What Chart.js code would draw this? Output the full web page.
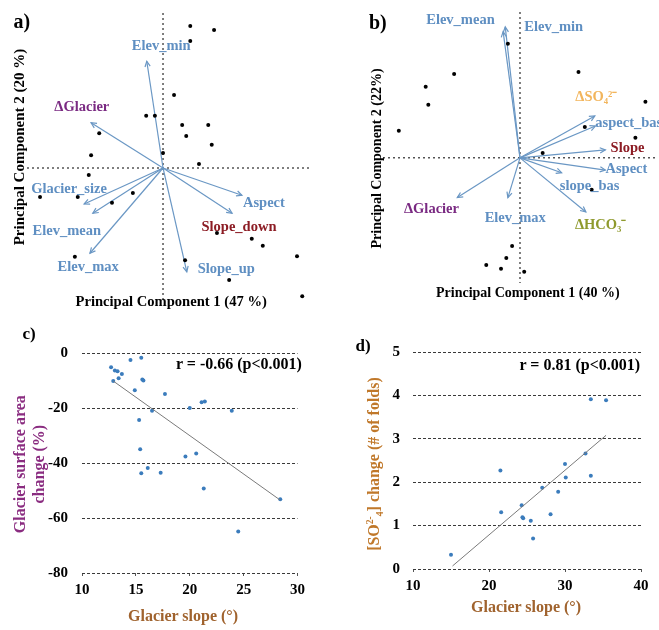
<!DOCTYPE html>
<html><head><meta charset="utf-8">
<script src="https://cdn.jsdelivr.net/npm/chart.js@4.4.1/dist/chart.umd.min.js"></script>
<style>
html,body{margin:0;padding:0;background:#fff;}
body{width:659px;height:630px;position:relative;overflow:hidden;font-family:"Liberation Serif","Times New Roman",serif;}
canvas{position:absolute;}
.t{position:absolute;font-weight:bold;white-space:nowrap;line-height:1.2;text-align:center;transform-origin:center center;}
</style></head><body>
<canvas id="ca" width="330" height="315" style="left:0;top:0"></canvas>
<canvas id="cb" width="329" height="315" style="left:330px;top:0"></canvas>
<canvas id="cc" width="310" height="300" style="left:0;top:330px"></canvas>
<canvas id="cd" width="329" height="300" style="left:330px;top:330px"></canvas>
<script>
// ---------- Panel a: PCA (PC1 47 %, PC2 20 %) ----------
const pcaA_pc1 = [0.47,0.88,0.47,0.19,-0.29,-0.14,0.33,0.78,0.40,0.84,-1.10,-1.24,0.00,0.62,-1.28,-2.12,-1.47,-0.52,-0.88,0.93,1.53,1.72,2.31,-1.52,0.38,1.14,2.40];
const pcaA_pc2 = [2.45,2.38,2.19,1.26,0.90,0.90,0.74,0.74,0.55,0.40,0.60,0.22,0.26,0.07,-0.12,-0.50,-0.50,-0.43,-0.60,-1.12,-1.22,-1.34,-1.52,-1.53,-1.59,-1.93,-2.21];
const pcaA_vars  = ['Elev_min','ΔGlacier','Glacier_size','Elev_mean','Elev_max','Aspect','Slope_down','Slope_up'];
const pcaA_load1 = [-0.28,-1.24,-1.36,-1.21,-1.26,1.36,1.19,0.41];
const pcaA_load2 = [1.84,0.78,-0.62,-0.78,-1.47,-0.47,-0.78,-1.79];
const pcaA_labX  = [-0.03,-1.40,-1.62,-1.66,-1.29,1.74,1.31,1.09];
const pcaA_labY  = [2.10,1.05,-0.36,-1.09,-1.71,-0.60,-1.03,-1.74];
const pcaA_kind  = ['var','glacier','var','var','var','var','slope','var'];

// ---------- Panel b: PCA (PC1 40 %, PC2 22 %) ----------
const pcaB_pc1 = [-0.23,-1.25,-1.79,-1.74,-2.30,1.11,2.38,1.23,2.19,0.43,1.36,-0.15,-0.26,-0.64,-0.36,0.08];
const pcaB_pc2 = [2.15,1.58,1.34,1.00,0.51,1.62,1.06,0.58,0.38,0.09,-0.60,-1.66,-1.89,-2.02,-2.09,-2.15];
const pcaB_vars  = ['Elev_mean','Elev_min','ΔSO₄²⁻','aspect_bas','Slope','Aspect','slope_bas','ΔHCO₃⁻','ΔGlacier','Elev_max'];
const pcaB_load1 = [-0.28,-0.32,1.42,1.43,1.62,1.62,0.79,1.25,-1.19,-0.23];
const pcaB_load2 = [2.47,2.38,0.79,0.60,0.15,-0.23,-0.28,-1.02,-0.75,-0.75];
const pcaB_labX  = [-1.13,0.64,1.45,1.43,2.04,2.02,1.32,1.53,-1.68,-0.09];
const pcaB_labY  = [2.60,2.47,1.15,0.66,0.19,-0.21,-0.53,-1.28,-0.96,-1.13];
const pcaB_kind  = ['var','var','so4','var','slope','var','var','hco3','glacier','var'];
const pcaB_align = ['center','center','center','left','center','center','center','center','center','center'];

// ---------- Panel c ----------
const slopeC = [12.7,13.05,13.3,13.7,13.4,12.9,14.5,15.5,15.6,15.7,14.9,17.7,16.5,15.3,20.0,21.1,21.4,23.9,15.4,19.6,20.6,16.1,15.5,17.3,21.3,28.4,24.5];
const areaChangeC = [-5.2,-6.4,-6.6,-7.6,-9.2,-10.2,-2.5,-1.7,-9.6,-10.0,-13.5,-14.9,-21.0,-24.4,-20.0,-17.9,-17.6,-21.0,-35.0,-37.6,-36.5,-41.8,-43.7,-43.5,-49.3,-53.2,-64.9];
const trendC_x = [12.9,28.4];
const trendC_y = [-10.2,-53.5];
const ticksC_y = [0,-20,-40,-60,-80];
const ticksC_x = [10,15,20,25,30];

// ---------- Panel d ----------
const slopeD = [15.0,21.5,21.6,24.3,24.4,24.5,25.5,25.8,27.0,28.1,29.1,30.0,30.1,32.7,33.4,33.4,35.4];
const so4ChangeD = [0.33,2.27,1.31,1.47,1.19,1.17,1.11,0.70,1.87,1.26,1.78,2.42,2.11,2.66,2.15,3.91,3.89];
const trendD_x = [15.2,35.4];
const trendD_y = [0.07,3.08];
const ticksD_y = [0,1,2,3,4,5];
const ticksD_x = [10,20,30,40];

// ---------- styles ----------
const FONT = '"Liberation Serif","Times New Roman",serif';
const kindColor = {var:'#5f8fc2', glacier:'#7a2a82', slope:'#8c1c24', so4:'#f2b55c', hco3:'#8f9a2e'};
const arrowColor = '#6a97c4';
const dotBlue = '#3b7cbc';

const pcaPlugin = {
  id:'pcaDecor',
  beforeDatasetsDraw(chart, args, opts){
    if(!opts || !opts.cross) return;
    const {ctx, chartArea:a, scales:{x,y}} = chart;
    const x0 = x.getPixelForValue(0), y0 = y.getPixelForValue(0);
    ctx.save();
    ctx.setLineDash([2,3]); ctx.strokeStyle='#555'; ctx.lineWidth=1.5;
    ctx.beginPath();
    ctx.moveTo(x0,a.top); ctx.lineTo(x0,a.bottom);
    ctx.moveTo(a.left,y0); ctx.lineTo(a.right,y0);
    ctx.stroke();
    ctx.restore();
  },
  afterDatasetsDraw(chart, args, opts){
    if(!opts || !opts.cross) return;
    const {ctx, scales:{x,y}} = chart;
    ctx.save();
    chart.data.datasets.forEach(ds=>{
      if(!ds.arrow) return;
      const p0 = ds.data[0], p1 = ds.data[1];
      const X0=x.getPixelForValue(p0.x), Y0=y.getPixelForValue(p0.y);
      const X1=x.getPixelForValue(p1.x), Y1=y.getPixelForValue(p1.y);
      const ang=Math.atan2(Y1-Y0,X1-X0), L=6, w=0.45;
      ctx.strokeStyle=ds.borderColor; ctx.lineWidth=1.2; ctx.setLineDash([]);
      ctx.beginPath();
      ctx.moveTo(X1-L*Math.cos(ang-w), Y1-L*Math.sin(ang-w));
      ctx.lineTo(X1,Y1);
      ctx.lineTo(X1-L*Math.cos(ang+w), Y1-L*Math.sin(ang+w));
      ctx.stroke();
    });
    (opts.labels||[]).forEach(l=>{
      ctx.font = 'bold '+(l.size||14.5)+'px '+FONT;
      ctx.fillStyle = l.color;
      ctx.textAlign = l.align||'center';
      ctx.textBaseline = 'middle';
      ctx.fillText(l.text, x.getPixelForValue(l.x), y.getPixelForValue(l.y));
    });
    ctx.restore();
  }
};

function pcaChart(id, pc1, pc2, vars, l1, l2, lx, ly, kinds, aligns, range, padding){
  const datasets = [{
    type:'scatter', data: pc1.map((v,i)=>({x:v,y:pc2[i]})),
    pointRadius:2, pointHoverRadius:2, backgroundColor:'#000', borderColor:'#000', borderWidth:0, clip:false
  }];
  vars.forEach((v,i)=>{
    datasets.push({type:'line', arrow:true, label:v,
      data:[{x:0,y:0},{x:l1[i],y:l2[i]}],
      borderColor:arrowColor, borderWidth:1.2, pointRadius:0, fill:false, clip:false});
  });
  const labels = vars.map((v,i)=>({text:v, x:lx[i], y:ly[i], color:kindColor[kinds[i]], align: aligns? aligns[i]:'center'}));
  return new Chart(document.getElementById(id), {
    type:'scatter',
    data:{datasets},
    options:{
      responsive:false, animation:false, devicePixelRatio:1,
      layout:{padding},
      scales:{
        x:{type:'linear', display:false, min:range[0], max:range[1]},
        y:{type:'linear', display:false, min:range[2], max:range[3]}
      },
      plugins:{legend:{display:false}, tooltip:{enabled:false}, pcaDecor:{cross:true, labels}}
    },
    plugins:[pcaPlugin]
  });
}

pcaChart('ca', pcaA_pc1, pcaA_pc2, pcaA_vars, pcaA_load1, pcaA_load2, pcaA_labX, pcaA_labY, pcaA_kind, null,
  [-2.345, 2.534, -2.276, 2.672], {left:27, top:13, right:20, bottom:15});
pcaChart('cb', pcaB_pc1, pcaB_pc2, pcaB_vars, pcaB_load1, pcaB_load2, pcaB_labX, pcaB_labY, pcaB_kind, pcaB_align,
  [-2.60, 2.60, -2.36, 2.75], {left:53, top:12, right:0, bottom:32});

function corrChart(id, xs, ys, tx, ty, xt, yt, yWidth, xHeight, padding, yPad){
  const tickFont = {family:FONT, weight:'bold', size:15};
  return new Chart(document.getElementById(id), {
    type:'scatter',
    data:{datasets:[
      {type:'line', data: tx.map((v,i)=>({x:v,y:ty[i]})), borderColor:'#7a7a7a', borderWidth:1, pointRadius:0, fill:false},
      {type:'scatter', data: xs.map((v,i)=>({x:v,y:ys[i]})), pointRadius:2, pointHoverRadius:2,
        backgroundColor:dotBlue, borderColor:dotBlue, borderWidth:0}
    ]},
    options:{
      responsive:false, animation:false, devicePixelRatio:1,
      layout:{padding},
      scales:{
        x:{type:'linear', min:Math.min(...xt), max:Math.max(...xt),
           afterBuildTicks(s){ s.ticks = xt.map(v=>({value:v})); },
           ticks:{font:tickFont, color:'#000', padding:5, maxRotation:0, autoSkip:false},
           grid:{display:true, drawOnChartArea:false, drawTicks:true, tickLength:3, color:'#555'},
           border:{display:false},
           afterFit(s){ s.height = xHeight; }},
        y:{type:'linear', min:Math.min(...yt), max:Math.max(...yt),
           afterBuildTicks(s){ s.ticks = yt.slice().sort((a,b)=>a-b).map(v=>({value:v})); },
           ticks:{font:tickFont, color:'#000', padding:yPad, autoSkip:false},
           grid:{display:true, drawTicks:false, color:'#3a3a3a', lineWidth:1},
           border:{display:false, dash:[3,2]},
           afterFit(s){ s.width = yWidth; }}
      },
      plugins:{legend:{display:false}, tooltip:{enabled:false}}
    }
  });
}

corrChart('cc', slopeC, areaChangeC, trendC_x, trendC_y, ticksC_x, ticksC_y, 82, 57, {top:18, right:12, left:0, bottom:0}, 14);
corrChart('cd', slopeD, so4ChangeD, trendD_x, trendD_y, ticksD_x, ticksD_y, 83, 61, {top:13, right:18, left:0, bottom:0}, 13);

// ---------- text: panel letters, axis titles, correlation notes ----------
function txt(html, cx, cy, size, color, rot){
  const d = document.createElement('div');
  d.className = 't';
  d.innerHTML = html;
  d.style.fontSize = size+'px';
  d.style.color = color||'#000';
  document.body.appendChild(d);
  const w = d.offsetWidth, h = d.offsetHeight;
  d.style.left = (cx - w/2)+'px';
  d.style.top = (cy - h/2)+'px';
  if(rot) d.style.transform = 'rotate('+rot+'deg)';
}
txt('a)', 22, 21, 20);
txt('b)', 378, 22, 20);
txt('c)', 29, 334, 17);
txt('d)', 363, 346, 17);

txt('Principal Component 2 (20 %)', 19, 147, 15, '#000', -90);
txt('Principal Component 1 (47 %)', 171, 302, 14.6, '#000');
txt('Principal Component 2 (22%)', 377, 158, 14, '#000', -90);
txt('Principal Component 1 (40 %)', 528, 293, 14, '#000');

txt('Glacier surface area<br>change (%)', 29, 464, 16, '#8a2c80', -90);
txt('Glacier slope (°)', 183, 615, 16, '#a0632e');
txt('r = -0.66 (p&lt;0.001)', 239, 363, 16, '#000');

txt('[SO<sup style="font-size:0.6em">2-</sup><sub style="font-size:0.6em">4</sub>] change (# of folds)', 375, 464, 16, '#c0782a', -90);
txt('Glacier slope (°)', 526, 606, 16, '#a0632e');
txt('r = 0.81 (p&lt;0.001)', 580, 364, 16, '#000');
</script>
</body></html>
